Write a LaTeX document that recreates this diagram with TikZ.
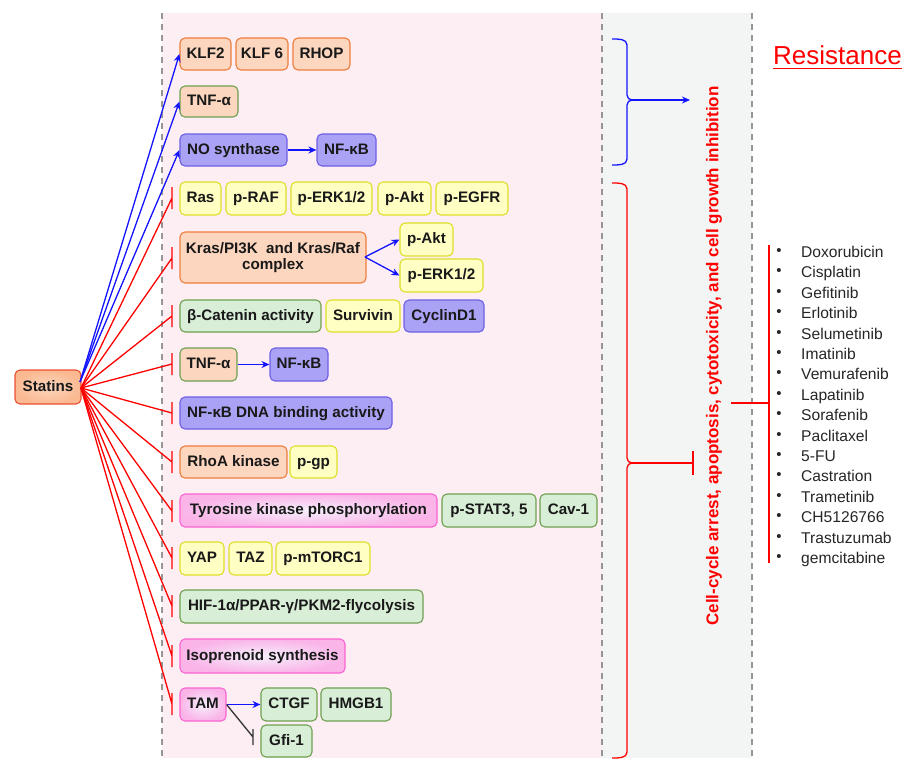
\documentclass[tikz,border=0pt]{standalone}
\usepackage{fontspec}
\setmainfont{Liberation Sans}
\usetikzlibrary{arrows.meta,shapes.misc}
\definecolor{pinkbg}{RGB}{253,238,244}
\definecolor{greybg}{RGB}{243,245,244}
\definecolor{dashc}{RGB}{150,150,150}
\definecolor{peach}{RGB}{252,214,190}
\definecolor{orangeb}{RGB}{238,125,60}
\definecolor{greenf}{RGB}{216,238,214}
\definecolor{greenb}{RGB}{110,160,80}
\definecolor{purplef}{RGB}{170,162,245}
\definecolor{purpleb}{RGB}{110,95,230}
\definecolor{yellowf}{RGB}{255,255,195}
\definecolor{yellowb}{RGB}{222,222,40}
\definecolor{pinkb}{RGB}{250,100,210}
\definecolor{pinko}{RGB}{250,180,232}
\definecolor{pinki}{RGB}{245,240,252}
\definecolor{statf}{RGB}{250,185,145}
\definecolor{statb}{RGB}{235,80,50}
\definecolor{txt}{RGB}{25,25,25}
\definecolor{redc}{RGB}{255,0,0}
\definecolor{bluec}{RGB}{20,20,255}
\tikzset{
  base/.style={rounded corners=5pt, line width=1.1pt, inner sep=0pt, align=center,
    font=\fontsize{15.2}{16}\selectfont\bfseries, text=txt},
  th/.style={text height=11pt, text depth=3pt},
  obox/.style={base, th, fill=peach, draw=orangeb},
  tbox/.style={base, th, fill=peach, draw=greenb},
  gbox/.style={base, th, fill=greenf, draw=greenb},
  pbox/.style={base, th, fill=purplef, draw=purpleb},
  ybox/.style={base, th, fill=yellowf, draw=yellowb},
  kbox/.style={base, th, draw=pinkb, inner color=pinki, outer color=pinko},
  sbox/.style={base, th, draw=statb, inner color=peach, outer color=statf},
  act/.style={draw=bluec, line width=1.3pt, -{Stealth[length=8pt,width=7pt]}},
  inh/.style={draw=redc, line width=1.3pt},
  dline/.style={draw=dashc, line width=1.2pt, dash pattern=on 6pt off 5pt},
}
\newcommand{\bx}[7]{\node[#1, minimum width={(#4-#2)*1pt}, minimum height={(#5-#3)*1pt}] (#6) at ({(#2+#4)/2},{(#3+#5)/2}) {#7};}
\begin{document}
\begin{tikzpicture}[x=1pt,y=-1pt]
\useasboundingbox (0,0) rectangle (907,758);
% backgrounds
\fill[pinkbg] (162,13) rectangle (602,758);
\fill[greybg] (602,13) rectangle (752,758);
\draw[dline] (162,13) -- (162,758);
\draw[dline] (602,13) -- (602,758);
\draw[dline] (752,13) -- (752,758);

% Statins
\bx{sbox}{15}{370}{81}{404}{st}{Statins}

% boxes
\bx{obox}{180}{38}{231}{70}{klf2}{KLF2}
\bx{obox}{236}{38}{288}{70}{klf6}{KLF 6}
\bx{obox}{293}{38}{350}{70}{rhop}{RHOP}
\bx{tbox}{180}{86}{238}{117}{tnfa}{TNF-α}
\bx{pbox}{180}{134}{287}{166}{nos}{NO synthase}
\bx{pbox}{317}{134}{376}{166}{nfkb1}{NF-κB}
\bx{ybox}{180}{182}{221}{215}{ras}{Ras}
\bx{ybox}{226}{182}{286}{215}{praf}{p-RAF}
\bx{ybox}{291}{182}{372}{215}{perk}{p-ERK1/2}
\bx{ybox}{378}{182}{431}{215}{pakt}{p-Akt}
\bx{ybox}{436}{182}{508}{215}{pegfr}{p-EGFR}
\node[base, fill=peach, draw=orangeb, minimum width=186pt, minimum height=51pt] (kras) at (273,257.5) {Kras/PI3K \ and Kras/Raf\\complex};
\bx{ybox}{400}{223}{453}{256}{pakt2}{p-Akt}
\bx{ybox}{400}{259}{483}{292}{perk2}{p-ERK1/2}
\bx{gbox}{180}{300}{321}{332}{bcat}{β-Catenin activity}
\bx{ybox}{326}{300}{400}{332}{surv}{Survivin}
\bx{pbox}{404}{300}{484}{332}{cyc}{CyclinD1}
\bx{tbox}{180}{348}{237}{381}{tnfb}{TNF-α}
\bx{pbox}{270}{348}{328}{381}{nfkb2}{NF-κB}
\bx{pbox}{180}{397}{392}{429}{nfdna}{NF-κB DNA binding activity}
\bx{obox}{180}{446}{287}{478}{rhoa}{RhoA kinase}
\bx{ybox}{290}{446}{337}{478}{pgp}{p-gp}
\bx{kbox}{180}{494}{437}{527}{tyr}{Tyrosine kinase phosphorylation}
\bx{gbox}{442}{494}{536}{527}{stat}{p-STAT3, 5}
\bx{gbox}{540}{494}{597}{527}{cav}{Cav-1}
\bx{ybox}{180}{542}{224}{575}{yap}{YAP}
\bx{ybox}{229}{542}{272}{575}{taz}{TAZ}
\bx{ybox}{276}{542}{370}{575}{mtor}{p-mTORC1}
\bx{gbox}{180}{590}{423}{623}{hif}{HIF-1α/PPAR-γ/PKM2-flycolysis}
\bx{kbox}{180}{639}{345}{673}{iso}{Isoprenoid synthesis}
\bx{kbox}{180}{688}{226}{721}{tam}{TAM}
\bx{gbox}{261}{688}{317}{721}{ctgf}{CTGF}
\bx{gbox}{321}{688}{391}{721}{hmgb}{HMGB1}
\bx{gbox}{261}{725}{312}{757}{gfi}{Gfi-1}

% blue activations from Statins
\coordinate (sb) at (80,382);
\draw[act] (sb) -- (klf2.west);
\draw[act] (sb) -- (tnfa.west);
\draw[act] (sb) -- (nos.west);
\draw[act] (nos) -- (nfkb1);
\draw[act] (tnfb) -- (nfkb2);
\coordinate (ke) at (365,257);
\draw[act] (ke) -- (pakt2.west);
\draw[act] (ke) -- (perk2.west);
\draw[act] (tam) -- (ctgf);

% red inhibitions from Statins
\coordinate (sr) at (81,388);
\foreach \n/\yy in {r1/198,r2/258,r3/316,r4/364,r5/413,r6/462,r7/511,r8/558,r9/606,r10/656,r11/704}{
  \coordinate (\n) at (172,\yy);
  \draw[inh] (sr) -- (\n) ++(0,-11) -- ++(0,22);
}

% TAM -| Gfi-1
\coordinate (tg) at (253,737);
\draw[black!80, line width=1.3pt] (tam.east) -- (tg) ++(0,-8) -- ++(0,16);

% brackets
\coordinate (bb) at (632,100);
\coordinate (bt) at (690,100);
\draw[bluec, line width=1.3pt] (612,39) to[out=0,in=90] (627,45) -- (627,95) to[out=-90,in=180] (bb) to[out=180,in=90] (627,105) -- (627,159) to[out=-90,in=0] (612,165);
\draw[act] (bb) -- (bt);
\coordinate (rb) at (632,463);
\coordinate (rt) at (693,463);
\draw[redc, line width=1.3pt] (612,183) to[out=0,in=90] (627,189) -- (627,458) to[out=-90,in=180] (rb) to[out=180,in=90] (627,468) -- (627,752) to[out=-90,in=0] (612,758);
\draw[inh] (rb) -- (rt) ++(0,-12) -- ++(0,24);

% vertical text
\node[rotate=90, text=redc, font=\fontsize{17}{18}\selectfont\bfseries, inner sep=0pt] (vt) at (714,356)
  {Cell-cycle arrest, apoptosis, cytotoxicity, and cell growth inhibition};

% Resistance
\node[text=redc, font=\fontsize{26}{27}\selectfont, inner sep=0pt, anchor=base west] (res) at (773,64) {Resistance};
\draw[redc, line width=1.5pt] (773,68.5) -- (902,68.5);

% drug list
\coordinate (dl1) at (769,245);
\coordinate (dl2) at (769,563);
\coordinate (dh) at (731,403);
\coordinate (dm) at (769,403);
\draw[redc, line width=1.3pt] (dl1) -- (dl2);
\draw[redc, line width=1.3pt] (dh) -- (dm);
\foreach \d [count=\i from 0] in {Doxorubicin,Cisplatin,Gefitinib,Erlotinib,Selumetinib,Imatinib,Vemurafenib,Lapatinib,Sorafenib,Paclitaxel,5-FU,Castration,Trametinib,CH5126766,Trastuzumab,gemcitabine}{
  \node[font=\fontsize{15.6}{16}\selectfont, text=black!85, inner sep=0pt, anchor=base west] (d\i) at (801,{257.5+\i*20.4}) {\d};
  \node[inner sep=0pt, text=black!85, font=\fontsize{15}{16}\selectfont] (b\i) at (779,{252+\i*20.4}) {•};
}
\end{tikzpicture}
\end{document}
